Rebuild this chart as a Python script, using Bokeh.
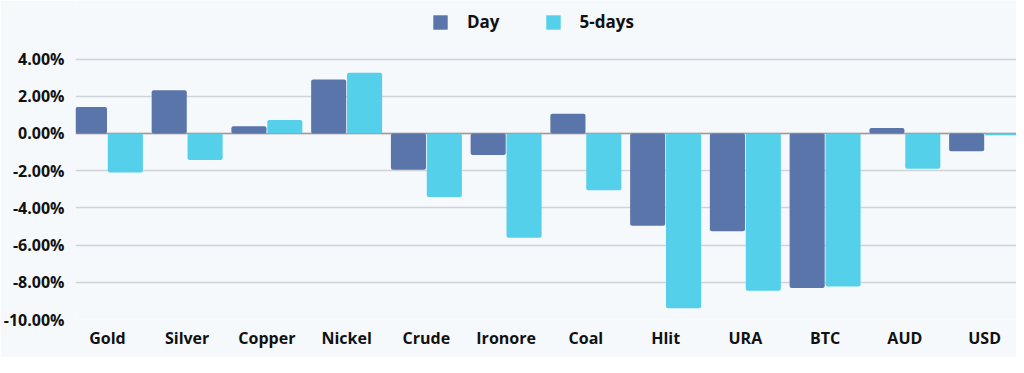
from bokeh.plotting import figure
from bokeh.models import ColumnDataSource, FactorRange, FixedTicker, PrintfTickFormatter, Legend, LegendItem, Span
from bokeh.transform import dodge
from bokeh.embed import file_html
from bokeh.resources import INLINE

categories = ["Gold", "Silver", "Copper", "Nickel", "Crude", "Ironore", "Coal", "Hlit", "URA", "BTC", "AUD", "USD"]
day = [1.43, 2.33, 0.39, 2.90, -1.95, -1.15, 1.06, -4.96, -5.25, -8.30, 0.29, -0.95]
five_days = [-2.10, -1.43, 0.72, 3.26, -3.42, -5.60, -3.05, -9.39, -8.46, -8.23, -1.90, -0.09]
y_ticks = [-10, -8, -6, -4, -2, 0, 2, 4]

DAY_COLOR = "#5a75aa"
FIVE_COLOR = "#54d0ea"
FONT = "Open Sans"

src = ColumnDataSource(dict(cat=categories, day=day, five=five_days))

xr = FactorRange(factors=categories, range_padding=-0.1, range_padding_units="absolute")
p = figure(x_range=xr, y_range=(-10, 7.15), width=1016, height=357,
           output_backend="svg", toolbar_location=None,
           min_border_left=72, min_border_right=0, min_border_top=0, min_border_bottom=38)

p.background_fill_color = "#f6f9fc"
p.border_fill_color = "#f6f9fc"
p.outline_line_color = None

r1 = p.vbar(x=dodge("cat", -0.225, range=p.x_range), top="day", bottom=0, width=0.44,
            source=src, fill_color=DAY_COLOR, line_color=None, border_radius=2)
r2 = p.vbar(x=dodge("cat", 0.225, range=p.x_range), top="five", bottom=0, width=0.44,
            source=src, fill_color=FIVE_COLOR, line_color=None, border_radius=2)

p.add_layout(Span(location=0, dimension="width", line_color="#9b9b9b", line_width=1.5, level="underlay"))

p.xgrid.grid_line_color = None
p.ygrid.grid_line_color = "#cfd3d8"
p.ygrid.grid_line_width = 1.5
p.yaxis.ticker = FixedTicker(ticks=y_ticks)
p.yaxis.formatter = PrintfTickFormatter(format="%.2f%%")

for ax in (p.xaxis, p.yaxis):
    ax.axis_line_color = None
    ax.major_tick_line_color = None
    ax.minor_tick_line_color = None
    ax.major_tick_out = 0
    ax.major_tick_in = 0
    ax.major_label_text_font = FONT
    ax.major_label_text_font_style = "bold"
    ax.major_label_text_font_size = "16px"
    ax.major_label_text_color = "#111111"
p.yaxis.major_label_standoff = 11
p.xaxis.major_label_standoff = 7

legend = Legend(items=[LegendItem(label="Day", renderers=[r1]), LegendItem(label="5-days", renderers=[r2])],
                orientation="horizontal", location=(356, 286))
legend.glyph_width = 18
legend.glyph_height = 18
legend.label_standoff = 18
legend.spacing = 44
legend.padding = 3
legend.margin = 0
legend.border_line_color = None
legend.background_fill_alpha = 0
legend.label_text_font = FONT
legend.label_text_font_style = "bold"
legend.label_text_font_size = "17px"
legend.label_text_color = "#111111"
p.add_layout(legend)

open("out.html", "w").write(file_html(p, INLINE))
